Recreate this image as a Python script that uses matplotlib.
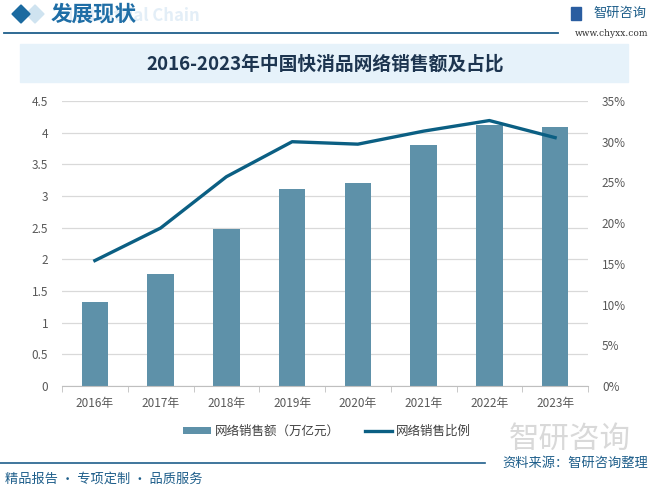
import matplotlib
matplotlib.use('Agg')
import matplotlib.pyplot as plt
from matplotlib.patches import Rectangle, Polygon
from matplotlib.lines import Line2D
import numpy as np

plt.rcParams['font.family'] = ['Noto Sans CJK SC', 'DejaVu Sans']

years = ['2016年', '2017年', '2018年', '2019年', '2020年', '2021年', '2022年', '2023年']
sales = [1.33, 1.77, 2.48, 3.11, 3.21, 3.80, 4.12, 4.09]
share = [15.4, 19.4, 25.7, 30.0, 29.7, 31.3, 32.6, 30.5]

bar_color = '#5e91a9'
line_color = '#0b5f83'
dark_blue = '#1f5f8b'

fig = plt.figure(figsize=(6.52, 4.91), dpi=100)

# header
fig.text(200 / 652, 1 - 16 / 491, 'Industrial Chain', fontsize=12, color='#e3eef7', fontweight='bold',
         ha='right', va='center', zorder=0)
fig.patches.append(Polygon([[26 / 652, 1 - 14 / 491], [35 / 652, 1 - 5 / 491], [44 / 652, 1 - 14 / 491], [35 / 652, 1 - 23 / 491]],
                           closed=True, transform=fig.transFigure, color='#cfe3f0', zorder=1))
fig.patches.append(Polygon([[12 / 652, 1 - 14 / 491], [21 / 652, 1 - 5 / 491], [30 / 652, 1 - 14 / 491], [21 / 652, 1 - 23 / 491]],
                           closed=True, transform=fig.transFigure, color='#1b6aa0', zorder=2))
fig.text(51 / 652, 1 - 14 / 491, '发展现状', fontsize=15.5, color='#1f6ea6', fontweight='bold', ha='left',
         va='center')
fig.lines.append(Line2D([4 / 652, 558 / 652], [1 - 33 / 491, 1 - 33 / 491], transform=fig.transFigure,
                        color=dark_blue, lw=1.3))
fig.text(593 / 652, 1 - 13 / 491, '智研咨询', fontsize=9.5, color='#1f5f8b', ha='left', va='center')
fig.patches.append(Rectangle((571 / 652, 1 - 20 / 491), 10 / 652, 13 / 491, transform=fig.transFigure,
                             color='#2a5da0'))
fig.text(648 / 652, 1 - 34 / 491, 'www.chyxx.com', fontsize=6.5, color='#333333', ha='right', va='center',
         family='DejaVu Serif')

# title box
fig.patches.append(Rectangle((20 / 652, 1 - 82 / 491), 608 / 652, 38 / 491, transform=fig.transFigure,
                             color='#e6f2fa', zorder=0))
fig.text(325 / 652, 1 - 64 / 491, '2016-2023年中国快消品网络销售额及占比', fontsize=13.5, fontweight='bold',
         color='#1d3550', ha='center', va='center')

ax = fig.add_axes([62 / 652, 1 - 386 / 491, 526 / 652, 285 / 491])
x = np.arange(len(years))
ax.bar(x, sales, width=0.4, color=bar_color, zorder=2, label='网络销售额（万亿元）')
ax.set_ylim(0, 4.5)
ax.set_yticks(np.arange(0, 4.51, 0.5))
ax.set_yticklabels(['0', '0.5', '1', '1.5', '2', '2.5', '3', '3.5', '4', '4.5'])
ax.set_xlim(-0.5, len(years) - 0.5)
ax.set_xticks(x)
ax.set_xticklabels(years)
ax.set_xticks(np.arange(-0.5, len(years), 1), minor=True)
ax.tick_params(axis='x', which='major', length=0, pad=8, labelsize=8.5, labelcolor='#595959')
ax.tick_params(axis='x', which='minor', length=4, color='#bfbfbf')
ax.tick_params(axis='y', length=0, pad=10, labelsize=8.5, labelcolor='#595959')
ax.grid(axis='y', color='#d9d9d9', lw=0.9, zorder=0)
for s in ['top', 'right', 'left']:
    ax.spines[s].set_visible(False)
ax.spines['bottom'].set_color('#bfbfbf')

ax2 = ax.twinx()
ax2.plot(x, share, color=line_color, lw=2.4, zorder=3, label='网络销售比例')
ax2.set_ylim(0, 35)
ax2.set_yticks(np.arange(0, 36, 5))
ax2.set_yticklabels([f'{v}%' for v in range(0, 36, 5)])
ax2.tick_params(axis='y', length=0, pad=10, labelsize=8.5, labelcolor='#595959')
for s in ['top', 'right', 'left', 'bottom']:
    ax2.spines[s].set_visible(False)

h1, l1 = ax.get_legend_handles_labels()
h2, l2 = ax2.get_legend_handles_labels()
fig.legend(h1 + h2, l1 + l2, loc='center', bbox_to_anchor=(327 / 652, 1 - 431 / 491), ncol=2, frameon=False,
           fontsize=9, labelcolor='#404040', handlelength=2.2, handleheight=0.5, columnspacing=2.0,
           handletextpad=0.3)

# watermark logo
fig.text(570 / 652, 1 - 439 / 491, '智研咨询', fontsize=22, color='#d9d9d9', ha='center', va='center', zorder=0)

# footer
fig.lines.append(Line2D([0, 485 / 652], [1 - 463 / 491, 1 - 463 / 491], transform=fig.transFigure,
                        color=dark_blue, lw=1.2))
fig.text(648 / 652, 1 - 463 / 491, '资料来源：智研咨询整理', fontsize=9.5, color='#1f5f8b', ha='right', va='center')
fig.text(5 / 652, 1 - 479 / 491, '精品报告 · 专项定制 · 品质服务', fontsize=9.5, color='#1f5f8b', ha='left',
         va='center')

fig.savefig('out.png', dpi=100)
